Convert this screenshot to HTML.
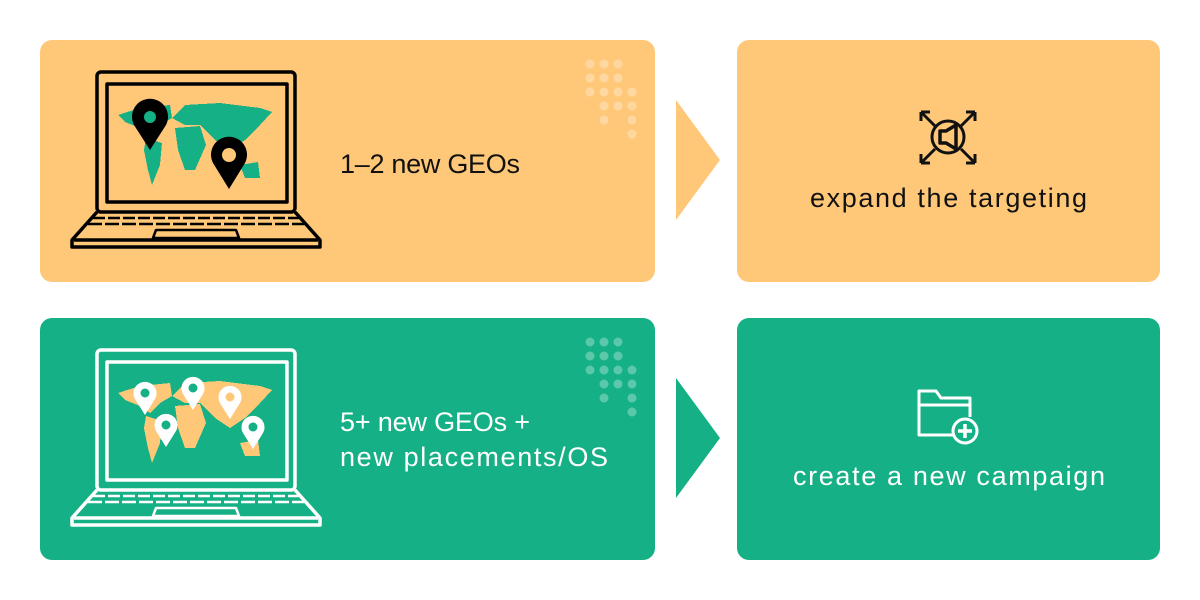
<!DOCTYPE html>
<html><head><meta charset="utf-8"><style>
html,body{margin:0;padding:0;background:#fff}
svg{display:block}
text{font-family:"Liberation Sans",sans-serif;font-size:27px}
</style></head><body>
<svg width="1200" height="600" viewBox="0 0 1200 600" xmlns="http://www.w3.org/2000/svg">
<defs>
<g id="map" shape-rendering="crispEdges">
<polygon points="118,115 140,108 170,105 172,118 160,125 150,135 140,128 125,122"/>
<polygon points="146,138 162,143 160,165 152,185 148,170 144,150"/>
<polygon points="172,118 185,105 220,103 260,108 272,112 260,125 245,140 230,150 215,140 200,125 185,125"/>
<polygon points="175,128 200,126 206,145 195,170 185,170 178,150"/>
<polygon points="240,165 258,162 260,178 245,178"/>
</g>
<g id="dots">
<circle cx="590" cy="64" r="4.5"/><circle cx="604" cy="64" r="4.5"/><circle cx="618" cy="64" r="4.5"/>
<circle cx="590" cy="78" r="4.5"/><circle cx="604" cy="78" r="4.5"/><circle cx="618" cy="78" r="4.5"/>
<circle cx="590" cy="92" r="4.5"/><circle cx="604" cy="92" r="4.5"/><circle cx="618" cy="92" r="4.5"/><circle cx="632" cy="92" r="4.5"/>
<circle cx="604" cy="106" r="4.5"/><circle cx="618" cy="106" r="4.5"/><circle cx="632" cy="106" r="4.5"/>
<circle cx="604" cy="120" r="4.5"/><circle cx="632" cy="120" r="4.5"/>
<circle cx="632" cy="134" r="4.5"/>
</g>
<g id="laptop" fill="none" stroke-width="3.5" stroke-linejoin="round">
<rect x="97" y="72" width="198" height="140" rx="4"/>
<rect x="107" y="84" width="180" height="118"/>
<path d="M97,212 L72,240 L72,247 L320,247 L320,240 L295,212"/>
<line x1="74" y1="240" x2="318" y2="240"/>
<line x1="93" y1="218" x2="299" y2="218" stroke-width="2.5" stroke-dasharray="12,3"/>
<line x1="88" y1="224" x2="304" y2="224" stroke-width="2.5" stroke-dasharray="14,3"/>
<path d="M156,230 L236,230 L239,238 L153,238 Z" stroke-width="2.5"/>
</g>
</defs>

<rect x="40" y="40" width="615" height="242" rx="12" fill="#FFC879"/>
<rect x="737" y="40" width="423" height="242" rx="12" fill="#FFC879"/>
<polygon points="676,100 720,160 676,220" fill="#FFC879"/>
<g fill="#fff" opacity="0.3"><use href="#dots"/></g>
<g fill="#15B085"><use href="#map"/></g>
<g stroke="#000"><use href="#laptop"/></g>
<path d="M150,150 L134,125 A18,18 0 1 1 166,125 Z" fill="#000"/>
<circle cx="150" cy="117" r="6" fill="#15B085"/>
<path d="M229,189 L213,163 A18,18 0 1 1 245,163 Z" fill="#000"/>
<circle cx="229" cy="155" r="7" fill="#FFC879"/>
<text x="340" y="173" fill="#111" textLength="180" lengthAdjust="spacing">1–2 new GEOs</text>
<g fill="none" stroke="#111" stroke-width="3" stroke-linejoin="round">
<circle cx="948" cy="137" r="16"/>
<path d="M940,131 L946,131 L956,125 L956,149 L946,143 L940,143 Z" stroke-width="3.5"/>
<path d="M921,112 L935,126 M921,112 L921,121 M921,112 L930,112"/>
<path d="M975,112 L961,126 M975,112 L975,121 M975,112 L966,112"/>
<path d="M921,163 L935,149 M921,163 L921,154 M921,163 L930,163"/>
<path d="M975,163 L961,149 M975,163 L975,154 M975,163 L966,163"/>
</g>
<text x="810" y="207" fill="#111" textLength="277" lengthAdjust="spacing">expand the targeting</text>

<rect x="40" y="318" width="615" height="242" rx="12" fill="#15B085"/>
<rect x="737" y="318" width="423" height="242" rx="12" fill="#15B085"/>
<polygon points="676,378 720,438 676,498" fill="#15B085"/>
<g fill="#fff" opacity="0.3" transform="translate(0,278)"><use href="#dots"/></g>
<g fill="#FFC879" transform="translate(0,278)"><use href="#map"/></g>
<g stroke="#fff" transform="translate(0,278)"><use href="#laptop"/></g>
<g fill="#fff">
<path d="M145,415 L135,399 A11.5,11.5 0 1 1 155,399 Z"/>
<path d="M193,410 L183,394 A11.5,11.5 0 1 1 203,394 Z"/>
<path d="M230,419 L220,403 A11.5,11.5 0 1 1 240,403 Z"/>
<path d="M166,447 L156,431 A11.5,11.5 0 1 1 176,431 Z"/>
<path d="M253,449 L243,433 A11.5,11.5 0 1 1 263,433 Z"/>
</g>
<g fill="#15B085">
<circle cx="145" cy="393" r="4.5"/><circle cx="193" cy="388" r="4.5"/><circle cx="166" cy="425" r="4.5"/><circle cx="253" cy="427" r="4.5"/>
</g>
<circle cx="230" cy="397" r="4.5" fill="#FFC879"/>
<text x="340" y="431" fill="#fff" textLength="190" lengthAdjust="spacing">5+ new GEOs +</text>
<text x="340" y="466" fill="#fff" textLength="268" lengthAdjust="spacing">new placements/OS</text>
<g fill="none" stroke="#fff" stroke-width="3" stroke-linejoin="round">
<path d="M955,435 L919,435 L919,391 L936,391 L941,398 L970,398 L970,417"/>
<line x1="919" y1="405" x2="970" y2="405"/>
<circle cx="965" cy="431" r="12" fill="#15B085"/>
<path d="M965,424 L965,438 M958,431 L972,431" stroke-width="3.5"/>
</g>
<text x="793" y="485" fill="#fff" textLength="312" lengthAdjust="spacing">create a new campaign</text>
</svg>
</body></html>
